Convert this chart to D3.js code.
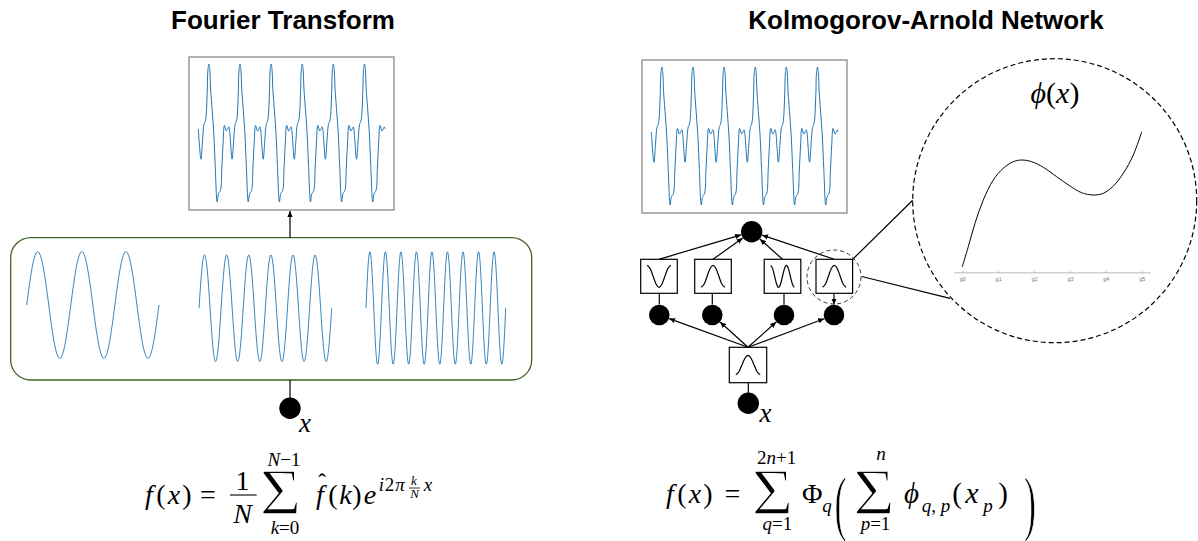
<!DOCTYPE html>
<html>
<head>
<meta charset="utf-8">
<script src="https://cdn.jsdelivr.net/npm/d3@7"></script>
<style>
  body { margin: 0; background: #fff; }
  svg { display: block; }
</style>
</head>
<body>
<svg id="chart" width="1198" height="541"></svg>
<script>
// one period of the composite signal (top panels)
const signalPhase = [0, .085, .138, .181, .234, .287, .307, .34, .372, .394, .457, .5, .543, .606, .649, .713, .755, .798, .84, .904, .947, .979];
const signalValue = [.06, -.38, -.10, .12, .19, .60, .90, 1, .90, .65, .26, -.03, -.47, -1, -.88, -.83, -.51, -.13, .11, .03, .06, .09];
const signalPeriods = 6;

// the three Fourier components: cycles shown, and one cycle sampled
const sineCycles = [3, 6, 9];
const sinePhase = [0, .125, .25, .375, .5, .625, .75, .875];
const sineValue = [0, .71, 1, .71, 0, -.71, -1, -.71];

// learned spline phi(x) on grid g0..g5
const gridLabels = ["g0", "g1", "g2", "g3", "g4", "g5"];
const phiGrid  = [0, .167, .354, .585, .864, 1.142, 1.421, 1.655, 1.934, 2.258, 2.63, 3.0, 3.326, 3.65, 3.93, 4.21, 4.487, 4.766, 5.0];
const phiValue = [.066, .266, .5, .733, .933, 1.05, 1.116, 1.133, 1.116, 1.06, .966, .873, .806, .783, .8, .873, 1.0, 1.183, 1.416];

// little activation icons in the KAN boxes (t in 0..1, v in 0..1)
const iconShapes = {
  valley: { t: [0, .125, .25, .375, .5, .625, .75, .875, 1], v: [1, .85, .5, .15, 0, .15, .5, .85, 1] },
  hump:   { t: [0, .125, .25, .375, .5, .625, .75, .875, 1], v: [0, .15, .5, .85, 1, .85, .5, .15, 0] },
  wave:   { t: [0, .083, .167, .25, .333, .417, .5, .583, .667, .75, .833, .917, 1], v: [1, .85, .5, .15, 0, .15, .5, .85, 1, .85, .5, .15, 0] }
};
const kanHidden = ["valley", "hump", "wave", "hump"];
const kanOuter = "hump";

const svg = d3.select("#chart");
const serif = "'Liberation Serif', 'Times New Roman', serif";
const sans = "'Liberation Sans', Arial, sans-serif";
const blue = "#1f77b4";

const defs = svg.append("defs");
defs.append("marker")
  .attr("id", "arrow")
  .attr("viewBox", "0 0 8 8")
  .attr("refX", 8).attr("refY", 4)
  .attr("markerWidth", 6).attr("markerHeight", 6)
  .attr("markerUnits", "userSpaceOnUse")
  .attr("orient", "auto")
  .append("path").attr("d", "M0,0.5L8,4L0,7.5Z").attr("fill", "#000");

// titles
svg.append("text").attr("x", 283).attr("y", 28.5).attr("text-anchor", "middle")
  .attr("font-family", sans).attr("font-weight", "bold").attr("font-size", 26).text("Fourier Transform");
svg.append("text").attr("x", 926).attr("y", 28.5).attr("text-anchor", "middle")
  .attr("font-family", sans).attr("font-weight", "bold").attr("font-size", 26).text("Kolmogorov-Arnold Network");

function drawSignal(x0, y0) {
  const w = 205, h = 153;
  const g = svg.append("g");
  g.append("rect").attr("x", x0).attr("y", y0).attr("width", w).attr("height", h)
    .attr("fill", "none").attr("stroke", "#8a8a8a").attr("stroke-width", 1.3);
  const x = d3.scaleLinear([0, signalPeriods], [x0 + 9.3, x0 + 196]);
  const y = d3.scaleLinear([-1, 1], [y0 + 145, y0 + 7]);
  const pts = [];
  d3.range(signalPeriods).forEach(k => signalPhase.forEach((p, i) => pts.push([k + p, signalValue[i]])));
  pts.push([signalPeriods, signalValue[0]]);
  g.append("path").datum(pts)
    .attr("d", d3.line().x(d => x(d[0])).y(d => y(d[1])).curve(d3.curveCatmullRom.alpha(0.5)))
    .attr("fill", "none").attr("stroke", blue).attr("stroke-width", 1);
}

function node(cx, cy, r = 10.7) {
  svg.append("circle").attr("cx", cx).attr("cy", cy).attr("r", r).attr("fill", "#000");
}

function arrowTo(x1, y1, cx, cy, r) {
  const dx = cx - x1, dy = cy - y1, L = Math.hypot(dx, dy);
  svg.append("line").attr("x1", x1).attr("y1", y1)
    .attr("x2", cx - dx / L * r).attr("y2", cy - dy / L * r)
    .attr("stroke", "#000").attr("stroke-width", 1.2).attr("marker-end", "url(#arrow)");
}

function seg(x1, y1, x2, y2, opts = {}) {
  const l = svg.append("line").attr("x1", x1).attr("y1", y1).attr("x2", x2).attr("y2", y2)
    .attr("stroke", opts.stroke || "#000").attr("stroke-width", opts.width || 1.2);
  if (opts.arrow) l.attr("marker-end", "url(#arrow)");
  return l;
}

// ---------- Fourier side ----------
drawSignal(189, 57);

// components box
svg.append("rect").attr("x", 10.7).attr("y", 237.7).attr("width", 521).attr("height", 142.3)
  .attr("rx", 20).attr("fill", "none").attr("stroke", "#3f6426").attr("stroke-width", 1.3);

const sineLayout = [
  { x0: 26.7, x1: 159, cy: 305, amp: 53.3 },
  { x0: 199, x1: 331.7, cy: 308.3, amp: 53.3 },
  { x0: 366, x1: 505.7, cy: 308, amp: 56.2 }
];
sineCycles.forEach((c, j) => {
  const L = sineLayout[j];
  const x = d3.scaleLinear([0, c], [L.x0, L.x1]);
  const y = d3.scaleLinear([-1, 1], [L.cy + L.amp, L.cy - L.amp]);
  const pts = [];
  d3.range(c).forEach(k => sinePhase.forEach((p, i) => pts.push([k + p, sineValue[i]])));
  pts.push([c, sineValue[0]]);
  svg.append("path").datum(pts)
    .attr("d", d3.line().x(d => x(d[0])).y(d => y(d[1])).curve(d3.curveNatural))
    .attr("fill", "none").attr("stroke", blue).attr("stroke-width", 0.9);
});

seg(290, 237.7, 290, 211, { arrow: true });
seg(290, 380, 290, 398);
node(290, 408.3);
svg.append("text").attr("x", 305).attr("y", 431.7).attr("text-anchor", "middle")
  .attr("font-family", serif).attr("font-style", "italic").attr("font-size", 27).text("x");

// ---------- KAN side ----------
drawSignal(642, 60);

const outNode = { x: 751.7, y: 231.7 };
const boxW = 36.6, boxH = 34, boxTop = 259.3;
const boxX = [659, 713, 782.5, 834.3];
const midX = [659.3, 712.3, 784, 834], midY = 315;
const bottomBox = { x: 748, y: 347.3, w: 37.4, h: 35.4 };
const inNode = { x: 748.3, y: 403.3 };

function icon(shape, bx, by, bw, bh, ix, iy) {
  const s = iconShapes[shape];
  const x = d3.scaleLinear([0, 1], [bx + ix, bx + bw - ix]);
  const y = d3.scaleLinear([0, 1], [by + bh - iy, by + iy]);
  svg.append("path").datum(d3.zip(s.t, s.v))
    .attr("d", d3.line().x(d => x(d[0])).y(d => y(d[1])).curve(d3.curveNatural))
    .attr("fill", "none").attr("stroke", "#000").attr("stroke-width", 1.2);
}

// edges first
boxX.forEach(cx => arrowTo(cx, boxTop, outNode.x, outNode.y, 11));
boxX.forEach((cx, i) => seg(midX[i], boxTop + boxH, midX[i], midY - 10.5, { arrow: i === 3 }));
midX.forEach(mx => arrowTo(bottomBox.x, bottomBox.y, mx, midY, 10.5));
seg(inNode.x, inNode.y - 10, inNode.x, bottomBox.y + bottomBox.h);

node(outNode.x, outNode.y);
boxX.forEach((cx, i) => {
  svg.append("rect").attr("x", cx - boxW / 2).attr("y", boxTop).attr("width", boxW).attr("height", boxH)
    .attr("fill", "#fff").attr("stroke", "#000").attr("stroke-width", 1.2);
  icon(kanHidden[i], cx - boxW / 2, boxTop, boxW, boxH, 6.5, 6);
});
midX.forEach(mx => node(mx, midY, 10.3));
svg.append("rect").attr("x", bottomBox.x - bottomBox.w / 2).attr("y", bottomBox.y)
  .attr("width", bottomBox.w).attr("height", bottomBox.h)
  .attr("fill", "#fff").attr("stroke", "#000").attr("stroke-width", 1.2);
icon(kanOuter, bottomBox.x - bottomBox.w / 2, bottomBox.y, bottomBox.w, bottomBox.h, 6.5, 8);
node(inNode.x, inNode.y);
svg.append("text").attr("x", 765.5).attr("y", 421.7).attr("text-anchor", "middle")
  .attr("font-family", serif).attr("font-style", "italic").attr("font-size", 27).text("x");

// magnifier
svg.append("circle").attr("cx", 834).attr("cy", 277).attr("r", 27)
  .attr("fill", "none").attr("stroke", "#333").attr("stroke-width", 1).attr("stroke-dasharray", "4,3");
seg(852.7, 259.3, 912.7, 200.3);
seg(861.7, 276.5, 950, 298.3);
svg.append("circle").attr("cx", 1054.7).attr("cy", 200.7).attr("r", 142)
  .attr("fill", "none").attr("stroke", "#000").attr("stroke-width", 1.2).attr("stroke-dasharray", "5,3");

svg.append("text").attr("x", 1055).attr("y", 103).attr("text-anchor", "middle")
  .attr("font-family", serif).attr("font-size", 30)
  .call(t => {
    t.append("tspan").attr("font-style", "italic").text("\u03d5");
    t.append("tspan").text("(");
    t.append("tspan").attr("font-style", "italic").text("x");
    t.append("tspan").text(")");
  });

const gx = d3.scaleLinear([0, 5], [962.3, 1141.7]);
const gy = d3.scaleLinear([0, 1], [273.3, 173.3]);
seg(954, 272.8, 1150.7, 272.8, { stroke: "#d0d0d0", width: 1.6 });
const ax = svg.append("g").attr("transform", "translate(0,272.8)")
  .call(d3.axisBottom(gx).tickValues(d3.range(6)).tickFormat(i => gridLabels[i]).tickSize(-2).tickPadding(4));
ax.select(".domain").remove();
ax.selectAll(".tick line").attr("stroke", "#999").attr("stroke-width", 0.6);
ax.selectAll(".tick text").attr("font-family", sans).attr("font-size", 5.5).attr("fill", "#777");

svg.append("path").datum(d3.zip(phiGrid, phiValue))
  .attr("d", d3.line().x(d => gx(d[0])).y(d => gy(d[1])).curve(d3.curveCatmullRom.alpha(0.5)))
  .attr("fill", "none").attr("stroke", "#000").attr("stroke-width", 1);

// ---------- formulas ----------
function m(str, x, y, size, italic, anchor = "middle") {
  return svg.append("text").attr("x", x).attr("y", y).attr("text-anchor", anchor)
    .attr("font-family", serif).attr("font-size", size)
    .attr("font-style", italic ? "italic" : "normal").text(str);
}
function sigma(cx, bottom) {
  // thin the glyph a bit with a white outline, closer to the TeX sum sign
  svg.append("text").attr("transform", `translate(${cx},${bottom}) scale(1.08,1)`)
    .attr("text-anchor", "middle").attr("font-family", serif).attr("font-size", 66)
    .attr("stroke", "#fff").attr("stroke-width", 1.6).text("\u03a3");
}
function bigParen(ch, cx, cy) {
  svg.append("text").attr("transform", `translate(${cx},${cy + 18.3}) scale(1.2,2.4)`)
    .attr("text-anchor", "middle").attr("font-family", serif).attr("font-size", 30)
    .attr("stroke", "#fff").attr("stroke-width", 0.4).text(ch);
}

// left: Fourier series
const FY = 504;
m("f", 149, FY, 28, true); m("(", 161, FY, 28); m("x", 174, FY, 28, true); m(")", 187, FY, 28);
m("=", 208, FY, 28);
m("1", 242.5, 490, 28); seg(230, 495, 256.7, 495, { width: 1.1 }); m("N", 242.5, 523, 28, true);
sigma(280.5, 514);
svg.append("text").attr("x", 284).attr("y", 466).attr("text-anchor", "middle").attr("font-family", serif).attr("font-size", 19)
  .call(t => { t.append("tspan").attr("font-style", "italic").text("N"); t.append("tspan").text("\u22121"); });
svg.append("text").attr("x", 285).attr("y", 534).attr("text-anchor", "middle").attr("font-family", serif).attr("font-size", 19)
  .call(t => { t.append("tspan").attr("font-style", "italic").text("k"); t.append("tspan").text("=0"); });
m("f", 320, FY, 28, true); m("\u02c6", 322, 490, 24);
m("(", 333, FY, 28); m("k", 345.5, FY, 28, true); m(")", 357, FY, 28);
m("e", 370, FY, 28, true);
m("i", 381.5, 491, 19, true); m("2", 389.5, 491, 19); m("\u03c0", 400, 491, 19, true);
m("k", 414, 485, 13, true); seg(409, 488, 420, 488, { width: 0.8 }); m("N", 414.5, 497.5, 13, true);
m("x", 428, 491, 19, true);

// right: Kolmogorov-Arnold representation
const KY = 503.3;
m("f", 670, KY, 28, true); m("(", 682, KY, 28); m("x", 695, KY, 28, true); m(")", 708, KY, 28);
m("=", 732.5, KY, 28);
sigma(772.5, 514);
svg.append("text").attr("x", 776.7).attr("y", 464).attr("text-anchor", "middle").attr("font-family", serif).attr("font-size", 19)
  .call(t => { t.append("tspan").text("2"); t.append("tspan").attr("font-style", "italic").text("n"); t.append("tspan").text("+1"); });
svg.append("text").attr("x", 777.3).attr("y", 530).attr("text-anchor", "middle").attr("font-family", serif).attr("font-size", 19)
  .call(t => { t.append("tspan").attr("font-style", "italic").text("q"); t.append("tspan").text("=1"); });
m("\u03a6", 812.3, KY, 28); m("q", 827, 511.7, 19, true);
bigParen("(", 840.5, 508.3);
sigma(874, 514);
m("n", 881, 460, 19, true);
svg.append("text").attr("x", 875.5).attr("y", 530).attr("text-anchor", "middle").attr("font-family", serif).attr("font-size", 19)
  .call(t => { t.append("tspan").attr("font-style", "italic").text("p"); t.append("tspan").text("=1"); });
m("\u03d5", 911.5, KY, 29, true);
svg.append("text").attr("x", 936).attr("y", 511.7).attr("text-anchor", "middle").attr("font-family", serif).attr("font-size", 19)
  .call(t => { t.append("tspan").attr("font-style", "italic").text("q"); t.append("tspan").text(", "); t.append("tspan").attr("font-style", "italic").text("p"); });
m("(", 957, KY, 29); m("x", 972, KY, 30, true); m("p", 988, 511.7, 19, true); m(")", 1003, KY, 29);
bigParen(")", 1030, 508.3);
</script>
</body>
</html>
